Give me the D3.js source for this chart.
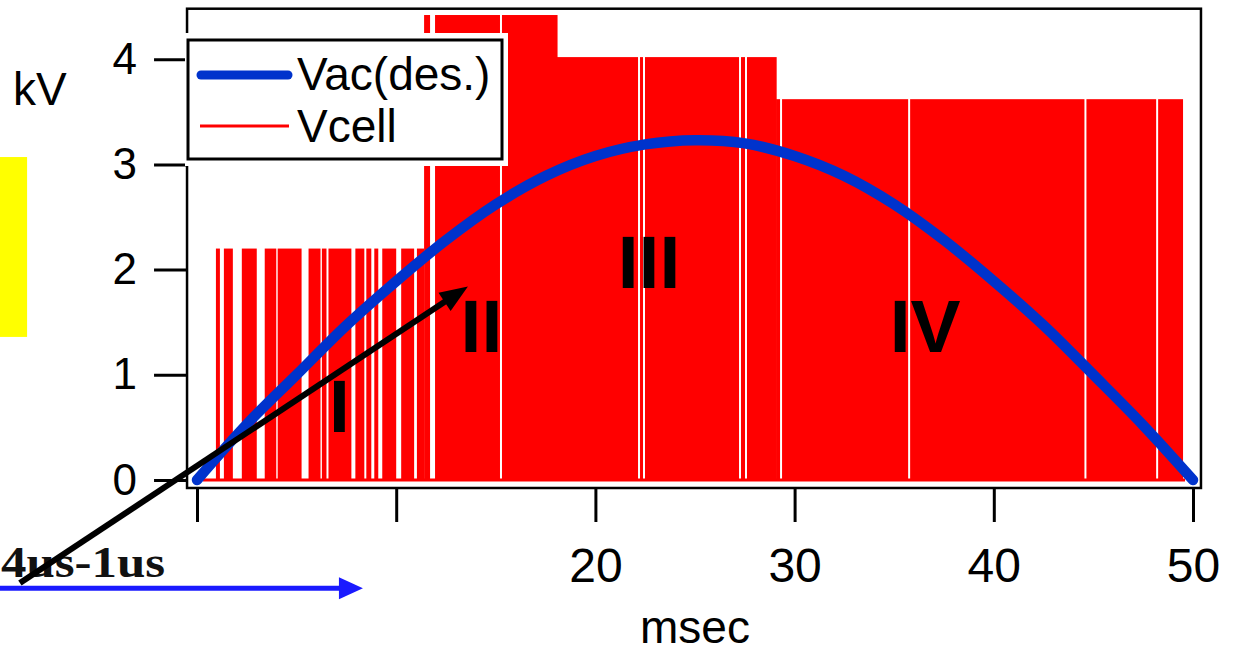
<!DOCTYPE html>
<html>
<head>
<meta charset="utf-8">
<script src="https://cdn.jsdelivr.net/npm/d3@7"></script>
<style>
  body { margin: 0; background: #fff; }
  svg { display: block; font-family: "Liberation Sans", Arial, sans-serif; }
</style>
</head>
<body>
<div id="chart"></div>
<script>
// Vac(des.), msec -> kV
const vacTime = [0, 2.5, 5, 7.5, 10, 12.5, 15, 17.5, 20, 22.5, 25, 27.5, 30, 32.5, 35, 37.5, 40, 42.5, 45, 47.5, 50];
const vacKv = [0, 0.53, 1.0, 1.47, 1.89, 2.28, 2.62, 2.89, 3.08, 3.19, 3.23, 3.20, 3.08, 2.89, 2.62, 2.28, 1.89, 1.47, 1.0, 0.52, 0];

// Vcell pulses [start, end] in msec, one list per region
const pulsesI = [[0.95, 1.15], [1.35, 1.8], [2.25, 3.0], [3.4, 3.98], [4.05, 5.25], [5.6, 6.2], [6.27, 6.5],
  [6.6, 7.75], [7.95, 8.4], [8.5, 8.75], [8.9, 9.1], [9.3, 10.0], [10.25, 10.9], [11.04, 11.4]];
const pulsesII = [[11.4, 11.7], [11.95, 15.21], [15.31, 18.1]];
const pulsesIII = [[18.07, 22.14], [22.24, 22.39], [22.49, 27.21], [27.31, 27.51], [27.61, 29.1]];
const pulsesIV = [[29.07, 29.27], [29.37, 35.7], [35.8, 44.55], [44.65, 48.15], [48.25, 49.5]];
const pulseLevels = [2.2, 4.42, 4.02, 3.62];
const cellBaseline = [0.3, 49.6];

const xTicks = [0, 10, 20, 30, 40, 50];
const xTickLabels = ["", "", "20", "30", "40", "50"];
const yTicks = [0, 1, 2, 3, 4];

const regionNames = ["I", "II", "III", "IV"];
const regionTime = [7.15, 14.28, 22.69, 36.55];
const regionKv = [0.456, 1.217, 1.825, 1.217];

// annotations pasted over the chart, in msec / kV
const blackArrow = [[-8.89, -0.98], [13.6, 1.84]];
const blueArrow = [[-9.95, -1.03], [8.33, -1.03]];
const yellowBox = [[-9.95, 3.07], [-8.53, 1.36]];

const width = 1236, height = 654;
const svg = d3.select('#chart').append('svg')
    .attr('width', width)
    .attr('height', height)
    .attr('viewBox', [0, 0, width, height]);

const x = d3.scaleLinear().domain([0, 50]).range([197, 1193]);
const y = d3.scaleLinear().domain([0, 4]).range([480, 59.2]);

// Vcell
const pulses = [pulsesI, pulsesII, pulsesIII, pulsesIV]
    .flatMap((list, r) => list.map(p => ({ t0: p[0], t1: p[1], v: pulseLevels[r] })));

svg.append('g')
    .attr('fill', '#ff0000')
    .selectAll('rect')
    .data(pulses)
    .join('rect')
    .attr('x', d => x(d.t0))
    .attr('width', d => x(d.t1) - x(d.t0))
    .attr('y', d => y(d.v))
    .attr('height', d => y(0) - y(d.v));

svg.append('line')
    .attr('x1', x(cellBaseline[0]))
    .attr('x2', x(cellBaseline[1]))
    .attr('y1', y(0))
    .attr('y2', y(0))
    .attr('stroke', '#ff0000')
    .attr('stroke-width', 3);

// Vac(des.)
const vacLine = d3.line()
    .x((d, i) => x(vacTime[i]))
    .y(d => y(d))
    .curve(d3.curveCatmullRom);

svg.append('path')
    .datum(vacKv)
    .attr('d', vacLine)
    .attr('fill', 'none')
    .attr('stroke', '#0033cc')
    .attr('stroke-width', 10.5)
    .attr('stroke-linecap', 'round')
    .attr('stroke-linejoin', 'round');

// frame
const frame = { x0: x(-0.5), x1: x(50.4), y0: y(4.48), y1: y(-0.076) };
svg.append('rect')
    .attr('x', frame.x0)
    .attr('y', frame.y0)
    .attr('width', frame.x1 - frame.x0)
    .attr('height', frame.y1 - frame.y0)
    .attr('fill', 'none')
    .attr('stroke', '#000')
    .attr('stroke-width', 2.5);

// axes
svg.append('g')
    .attr('transform', `translate(${frame.x0},0)`)
    .call(d3.axisLeft(y).tickValues(yTicks).tickSize(33).tickPadding(17).tickFormat(d3.format('d')))
    .call(g => g.select('.domain').remove())
    .call(g => g.selectAll('.tick line').attr('stroke', '#000').attr('stroke-width', 3))
    .call(g => g.selectAll('.tick text').attr('fill', '#000')
        .attr('font-family', '"Liberation Sans", Arial, sans-serif').attr('font-size', 44));

svg.append('g')
    .attr('transform', `translate(0,${frame.y1})`)
    .call(d3.axisBottom(x).tickValues(xTicks).tickSize(34).tickPadding(26).tickFormat((d, i) => xTickLabels[i]))
    .call(g => g.select('.domain').remove())
    .call(g => g.selectAll('.tick line').attr('stroke', '#000').attr('stroke-width', 3))
    .call(g => g.selectAll('.tick text').attr('fill', '#000')
        .attr('font-family', '"Liberation Sans", Arial, sans-serif').attr('font-size', 48));

svg.append('text')
    .attr('x', 13)
    .attr('y', 105)
    .attr('font-size', 46)
    .text('kV');

svg.append('text')
    .attr('x', 695)
    .attr('y', 643)
    .attr('text-anchor', 'middle')
    .attr('font-size', 46)
    .text('msec');

// legend
const legend = svg.append('g');
legend.append('rect')
    .attr('x', 185).attr('y', 33).attr('width', 323).attr('height', 133)
    .attr('fill', '#fff');
legend.append('rect')
    .attr('x', 188).attr('y', 40).attr('width', 314).attr('height', 119)
    .attr('fill', '#fff').attr('stroke', '#000').attr('stroke-width', 3);
legend.append('line')
    .attr('x1', 201).attr('x2', 288).attr('y1', 75).attr('y2', 75)
    .attr('stroke', '#0033cc').attr('stroke-width', 9).attr('stroke-linecap', 'round');
legend.append('line')
    .attr('x1', 200).attr('x2', 289).attr('y1', 126).attr('y2', 126)
    .attr('stroke', '#ff0000').attr('stroke-width', 3);
legend.append('text').attr('x', 297).attr('y', 90).attr('font-size', 46).text('Vac(des.)');
legend.append('text').attr('x', 297).attr('y', 142).attr('font-size', 46).text('Vcell');

// region numerals
svg.append('g')
    .attr('font-weight', 'bold')
    .attr('font-size', 75)
    .attr('text-anchor', 'middle')
    .selectAll('text')
    .data(regionNames)
    .join('text')
    .attr('x', (d, i) => x(regionTime[i]))
    .attr('y', (d, i) => y(regionKv[i]))
    .text(d => d);

// pasted bits on the left
svg.append('rect')
    .attr('x', x(yellowBox[0][0]))
    .attr('y', y(yellowBox[0][1]))
    .attr('width', x(yellowBox[1][0]) - x(yellowBox[0][0]))
    .attr('height', y(yellowBox[1][1]) - y(yellowBox[0][1]))
    .attr('fill', '#ffff00');

svg.append('text')
    .attr('x', 1)
    .attr('y', 577)
    .attr('font-family', '"Liberation Serif", "Times New Roman", serif')
    .attr('font-weight', 'bold')
    .attr('font-size', 44)
    .attr('textLength', 164)
    .attr('lengthAdjust', 'spacingAndGlyphs')
    .attr('fill', '#111')
    .text('4us-1us');

function arrow(points, color, stroke, headLen, headHalf) {
    const [a, b] = points.map(p => [x(p[0]), y(p[1])]);
    const len = Math.hypot(b[0] - a[0], b[1] - a[1]);
    const ux = (b[0] - a[0]) / len, uy = (b[1] - a[1]) / len;
    const base = [b[0] - ux * headLen, b[1] - uy * headLen];
    svg.append('line')
        .attr('x1', a[0]).attr('y1', a[1])
        .attr('x2', base[0] + ux * 2).attr('y2', base[1] + uy * 2)
        .attr('stroke', color).attr('stroke-width', stroke);
    svg.append('path')
        .attr('d', d3.line()([b,
            [base[0] - uy * headHalf, base[1] + ux * headHalf],
            [base[0] + uy * headHalf, base[1] - ux * headHalf]]) + 'Z')
        .attr('fill', color);
}

arrow(blueArrow, '#1a1aff', 5, 24, 11);
arrow(blackArrow, '#000', 6, 28, 11);
</script>
</body>
</html>
